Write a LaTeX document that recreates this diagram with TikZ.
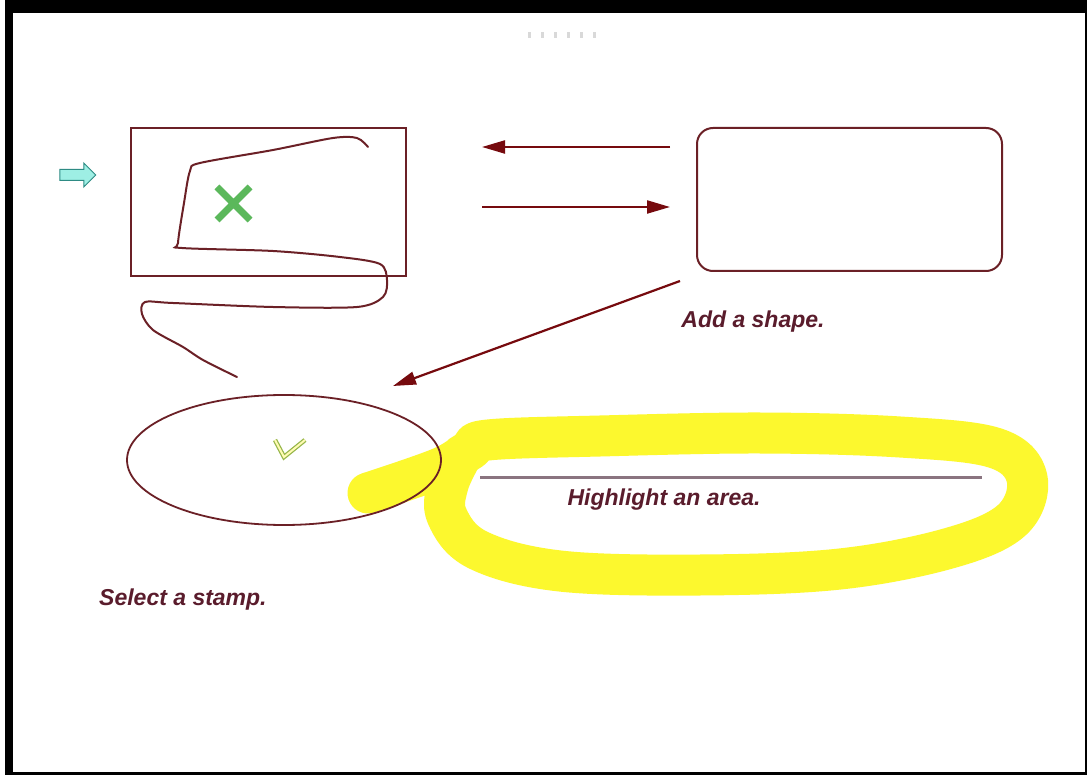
\documentclass[tikz,border=0pt]{standalone}
\usepackage{fontspec}
\usetikzlibrary{shapes.geometric,shapes.arrows,arrows.meta}
\newfontfamily\notefont{Liberation Sans}
\definecolor{inkline}{HTML}{6B2026}
\definecolor{tipred}{HTML}{760A0E}
\definecolor{notecol}{HTML}{5A1C2C}
\definecolor{hilite}{HTML}{FCF82E}
\definecolor{rulegray}{HTML}{8A7480}
\definecolor{stampgreen}{HTML}{5BB85B}
\definecolor{pointerfill}{HTML}{9EEFE4}
\definecolor{pointerline}{HTML}{2E8B84}

\begin{document}
\begin{tikzpicture}[x=1pt, y=-1pt,
    note/.style={font=\notefont\bfseries\itshape\fontsize{23}{26}\selectfont, text=notecol, inner sep=0},
    link/.style={draw=tipred, line width=2.2pt, -{Triangle[length=23pt,width=13pt]}}]
    % Frame
    \fill[black] (5,0) rectangle (1087,775);
    \fill[white] (13,13) rectangle (1085,772);
    \useasboundingbox (0,0) rectangle (1087,775);
    \foreach \i in {0,...,5}
        \fill[gray!30] (528+13*\i,32) rectangle ++(3,6);
    % Highlight stroke
    \draw[hilite, line width=41pt, line cap=round, line join=round]
        plot[smooth, tension=0.6] coordinates {(368,493) (440,468) (470,450) (488,440)
        (600,436) (760,433) (900,437) (995,448) (1027,478) (1012,520) (950,548)
        (840,569) (700,575) (560,571) (478,550) (447,516) (448,485) (462,455)};
    % Nodes
    \node [single arrow, draw=pointerline, fill=pointerfill, line width=1pt, inner sep=0, inner ysep=5pt,
        minimum height=36pt, single arrow head extend=6.5pt] (pointer) at (75,175) {};
    \node [draw=inkline, rectangle, line width=2pt, minimum width=275pt, minimum height=148pt, inner sep=0] (drawbox) at (268.5,202) {};
    \node [draw=inkline, rectangle, rounded corners=16pt, line width=2pt, minimum width=305pt, minimum height=143pt, inner sep=0] (shapebox) at (849.5,199.5) {};
    \node [draw=inkline, ellipse, line width=1.8pt, minimum width=314pt, minimum height=130pt, inner sep=0] (stampbox) at (284,460) {};
    \node [note] (shapenote) at (753,322) {Add a shape.};
    \node [note] (areanote) at (664,500) {Highlight an area.};
    \node [note, anchor=west] (stampnote) at (99,600) {Select a stamp.};
    % Marks
    \draw[stampgreen, line width=7pt] (217,187) -- (250,220) (217,220) -- (250,187);
    \draw[olive!60!green!70, line width=4.5pt, line join=miter] (275,440) -- (284,457) -- (305,440);
    \draw[yellow!30!white, line width=2pt] (275,440) -- (284,457) -- (305,440);
    \draw[rulegray, line width=3pt] (480,477) -- (982,477);
    \draw[inkline, line width=2pt, line cap=round]
        plot[smooth, tension=0.5] coordinates {(368,147) (357,138) (333,138) (273,150) (200,163)
        (190,171) (184,203) (178,243) (182,248) (273,251) (340,257) (380,264) (387,280)
        (383,297) (357,307) (273,307) (173,303) (145,302) (142,314) (153,330) (183,347)
        (203,360) (237,377)};
    % Arrows
    \coordinate (backfrom) at (670,147);
    \coordinate (backto) at (482,147);
    \coordinate (fwdfrom) at (482,207);
    \coordinate (fwdto) at (670,207);
    \coordinate (downfrom) at (680,281);
    \coordinate (downto) at (393,386);
    \draw[link] (backfrom) -- (backto);
    \draw[link] (fwdfrom) -- (fwdto);
    \draw[link] (downfrom) -- (downto);
\end{tikzpicture}
\end{document}
